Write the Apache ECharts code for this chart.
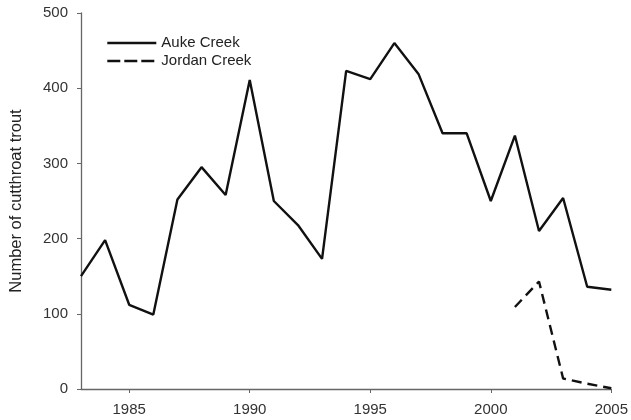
<!DOCTYPE html>
<html>
<head>
<meta charset="utf-8">
<script src="https://cdn.jsdelivr.net/npm/echarts@6/dist/echarts.min.js"></script>
<style>html,body{margin:0;padding:0;background:#fff}#c{width:631px;height:420px}</style>
</head>
<body>
<div id="c"></div>
<script>
const years = [1983,1984,1985,1986,1987,1988,1989,1990,1991,1992,1993,1994,1995,1996,1997,1998,1999,2000,2001,2002,2003,2004,2005];
const aukeCreek = [150,198,112,99,252,295,258,411,250,218,173,423,412,460,419,340,340,250,337,210,254,136,132];
const jordanYears = [2001,2002,2003,2004,2005];
const jordanCreek = [109,143,14,7,1];
const xTicks = [1985,1990,1995,2000,2005];
const yTicks = [0,100,200,300,400,500];

const chart = echarts.init(document.getElementById('c'), null, {renderer:'canvas'});
const font = 'Liberation Sans, Arial, sans-serif';
chart.setOption({
  animation: false,
  backgroundColor: '#fff',
  grid: {left: 77, right: 17, top: 13, bottom: 31},
  legend: {
    left: 101, top: 30, orient: 'vertical', itemWidth: 49, itemHeight: 10, itemGap: 2,
    itemStyle: {opacity: 0},
    textStyle: {fontFamily: font, fontSize: 15, lineHeight: 16, color: '#222'},
    data: [
      {name: 'Auke Creek', lineStyle: {color: '#111', width: 2.6, type: 'solid'}},
      {name: 'Jordan Creek', lineStyle: {color: '#111', width: 2.6, type: [13, 4]}}
    ]
  },
  xAxis: {
    type: 'value', min: 1983, max: 2005,
    splitLine: {show: false},
    axisLine: {lineStyle: {color: '#666', width: 1.3}},
    axisTick: {customValues: xTicks, length: 4, lineStyle: {color: '#666'}},
    axisLabel: {customValues: xTicks, fontFamily: font, fontSize: 15, color: '#333', margin: 13,
      formatter: v => String(v)}
  },
  yAxis: {
    type: 'value', min: 0, max: 500, interval: 100,
    name: 'Number of cutthroat trout', nameLocation: 'middle', nameGap: 56,
    nameTextStyle: {fontFamily: font, fontSize: 16.5, color: '#222'},
    splitLine: {show: false},
    axisLine: {show: true, lineStyle: {color: '#666', width: 1.3}},
    axisTick: {show: true, length: 4, lineStyle: {color: '#666'}},
    axisLabel: {fontFamily: font, fontSize: 15, color: '#333', margin: 13,
      formatter: v => yTicks.includes(v) ? String(v) : ''}
  },
  series: [
    {
      name: 'Auke Creek', type: 'line', symbol: 'none',
      data: years.map((y, i) => [y, aukeCreek[i]]),
      lineStyle: {color: '#111', width: 2.4}, itemStyle: {color: '#111'}
    },
    {
      name: 'Jordan Creek', type: 'line', symbol: 'none',
      data: jordanYears.map((y, i) => [y, jordanCreek[i]]),
      lineStyle: {color: '#111', width: 2.4, type: [10, 6]}, itemStyle: {color: '#111'}
    }
  ]
});
</script>
</body>
</html>
